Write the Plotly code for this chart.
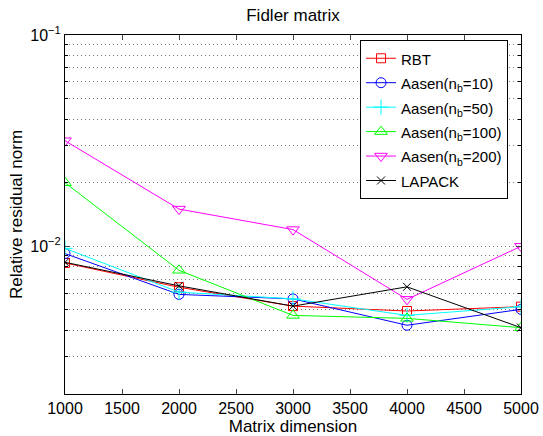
import plotly.graph_objects as go
import numpy as np

dims = [1000, 2000, 3000, 4000, 5000]
rbt = [0.00834, 0.0064, 0.00521, 0.00494, 0.00518]
aasen10 = [0.00924, 0.00592, 0.00564, 0.00423, 0.00503]
aasen50 = [0.00978, 0.00607, 0.00564, 0.00471, 0.00518]
aasen100 = [0.0200, 0.0077, 0.00471, 0.00456, 0.00412]
aasen200 = [0.0316, 0.0150, 0.0120, 0.00561, 0.0100]
lapack = [0.0084, 0.0065, 0.00521, 0.00643, 0.00412]

series = [
    ("RBT", rbt, "#ff0000", "square-open", 9),
    ("Aasen(n<sub>b</sub>=10)", aasen10, "#0000ff", "circle-open", 10),
    ("Aasen(n<sub>b</sub>=50)", aasen50, "#00ffff", "cross-thin-open", 11),
    ("Aasen(n<sub>b</sub>=100)", aasen100, "#00ff00", "triangle-up-open", 11),
    ("Aasen(n<sub>b</sub>=200)", aasen200, "#ff00ff", "triangle-down-open", 11),
    ("LAPACK", lapack, "#000000", "x-thin-open", 8),
]

fig = go.Figure()
for name, vals, col, sym, msize in series:
    fig.add_trace(go.Scatter(
        x=dims, y=vals, mode="lines+markers",
        name='<span style="font-size:15px">' + name + "</span>",
        line=dict(color=col, width=1),
        marker=dict(symbol=sym, size=msize, color=col, line=dict(color=col, width=1)),
    ))

font = "Liberation Sans, Arial, sans-serif"
minor_vals = [m * 10.0 ** e for e in (-3, -2) for m in range(2, 10)]
minor_vals = [v for v in minor_vals if 0.002 <= v <= 0.1]
grid_col = "#777777"
grid_dash = "1px,3px"

fig.update_layout(
    width=543, height=436,
    margin=dict(l=65, r=22, t=35, b=42),
    paper_bgcolor="white", plot_bgcolor="white",
    font=dict(family=font, size=15, color="black"),
    title=dict(text="Fidler matrix", x=0.5, xanchor="center", xref="paper",
               y=0.965, yanchor="middle",
               font=dict(family=font, size=17)),
    showlegend=True,
    legend=dict(x=0.647, y=0.986, xanchor="left", yanchor="top",
                bordercolor="black", borderwidth=1, bgcolor="white",
                font=dict(family=font, size=16.5), tracegroupgap=0),
    xaxis=dict(
        range=[1000, 5000], tickvals=[1000, 1500, 2000, 2500, 3000, 3500, 4000, 4500, 5000],
        ticks="inside", ticklen=5, mirror="allticks", showline=True, linecolor="black",
        linewidth=1, showgrid=False, zeroline=False, automargin=False,
        title=dict(text="Matrix dimension", standoff=0, font=dict(family=font, size=17)),
        tickfont=dict(family=font, size=16),
    ),
    yaxis=dict(
        type="log", range=[np.log10(0.002), -1], automargin=False,
        tickvals=[0.01, 0.1], ticktext=["10<sup>\u22122</sup>", "10<sup>\u22121</sup>"],
        ticks="inside", ticklen=5, mirror="allticks", showline=True, linecolor="black",
        linewidth=1, showgrid=True, gridcolor=grid_col, griddash=grid_dash, gridwidth=1,
        zeroline=False,
        minor=dict(tickvals=minor_vals, ticks="inside", ticklen=3, showgrid=True,
                   gridcolor=grid_col, griddash=grid_dash, gridwidth=1, tickcolor="black"),
        title=dict(text="Relative residual norm", standoff=3, font=dict(family=font, size=17)),
        tickfont=dict(family=font, size=16),
    ),
)

fig.write_html("out.html", config={"displayModeBar": False},
               post_script=["document.body.style.margin='0';"])
